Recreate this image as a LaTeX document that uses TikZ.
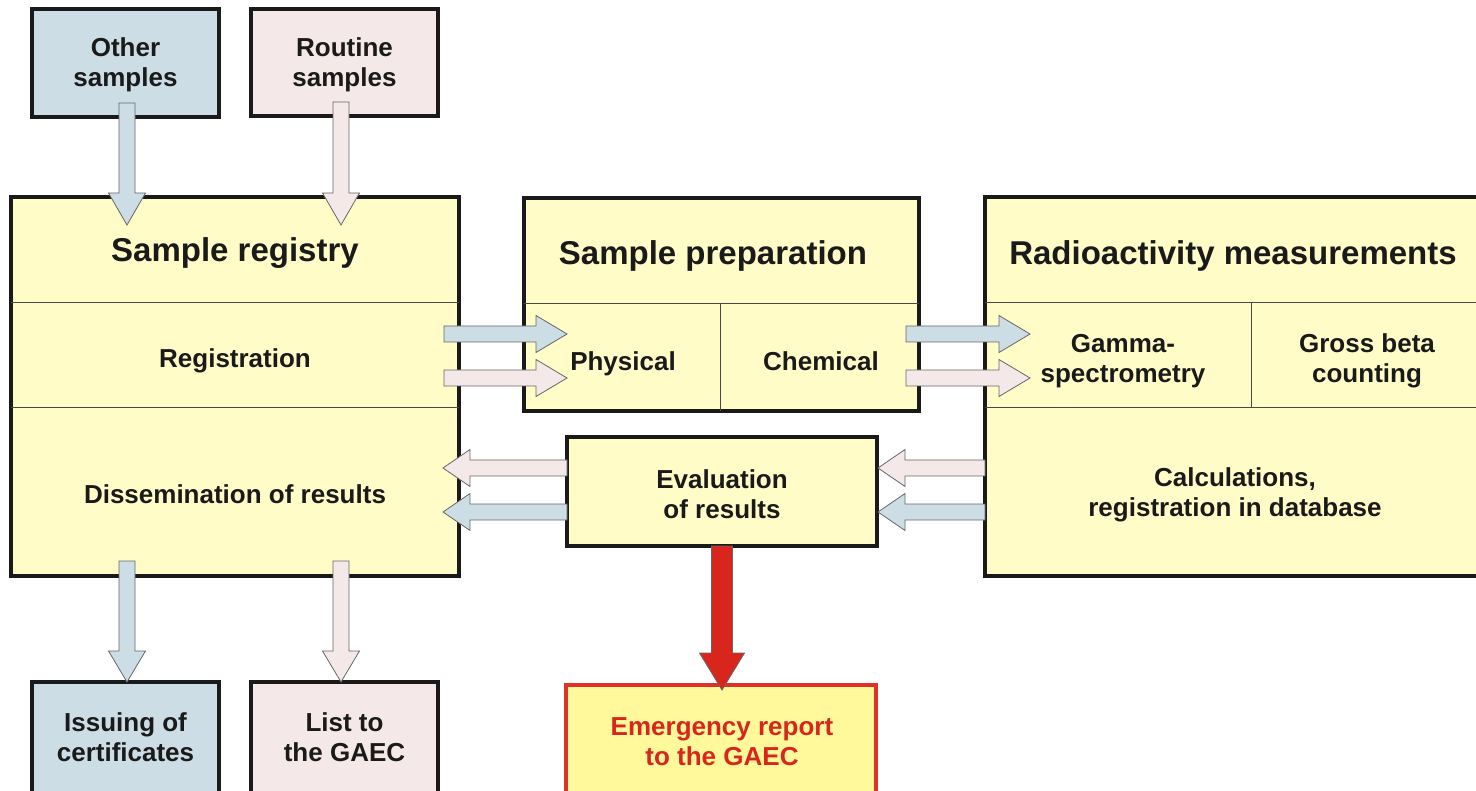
\documentclass[tikz,border=0pt]{standalone}
\usepackage{fontspec}
\setmainfont{Liberation Sans}
\usetikzlibrary{calc}
\definecolor{boxyellow}{HTML}{FFFCC8}
\definecolor{boxblue}{HTML}{CCDDE6}
\definecolor{boxpink}{HTML}{F5E8E8}
\definecolor{emgyellow}{HTML}{FFF99B}
\definecolor{emgred}{HTML}{E0302A}
\definecolor{arrred}{HTML}{D9261C}
\definecolor{ink}{HTML}{1A1A1A}
\tikzset{
  box/.style={draw=ink, line width=3.5pt, inner sep=0pt, outer sep=0pt},
  divline/.style={draw=ink!80, line width=1pt},
  bodytxt/.style={font=\bfseries\fontsize{26}{30}\selectfont, text=ink, align=center, inner sep=0pt},
  titletxt/.style={font=\bfseries\fontsize{33}{38}\selectfont, text=ink, align=center, inner sep=0pt},
  arrowline/.style={draw=black!60, line width=0.8pt, line join=miter},
}
\newcommand{\fatarr}[6]{%
  \coordinate (fa-s) at (#2);
  \coordinate (fa-t) at (#3);
  \coordinate (fa-h) at ($(fa-t)!#6pt!(fa-s)$);
  \draw[arrowline, fill=#1]
    ($(fa-s)!#4pt!90:(fa-t)$) -- ($(fa-h)!#4pt!90:(fa-t)$) --
    ($(fa-h)!#5pt!90:(fa-t)$) -- (fa-t) --
    ($(fa-h)!#5pt!-90:(fa-t)$) -- ($(fa-h)!#4pt!-90:(fa-t)$) --
    ($(fa-s)!#4pt!-90:(fa-t)$) -- cycle;
}
\begin{document}
\begin{tikzpicture}[x=1pt,y=-1pt]
\useasboundingbox (0,0) rectangle (1476,791);
\clip (0,0) rectangle (1476,791);

% top boxes
\node[box, fill=boxblue, minimum width=187pt, minimum height=108pt] (oth) at (125.5,63) {};
\node[bodytxt] (othT) at (125.5,65) {Other\\samples};
\node[box, fill=boxpink, minimum width=187pt, minimum height=107pt] (rou) at (344.5,62.5) {};
\node[bodytxt] (rouT) at (344.5,65) {Routine\\samples};

% sample registry
\node[box, fill=boxyellow, minimum width=448pt, minimum height=379pt] (reg) at (235,386.5) {};
\draw[divline] (reg.west |- 0,303) -- (reg.east |- 0,303);
\draw[divline] (reg.west |- 0,408) -- (reg.east |- 0,408);
\node[titletxt] (regT) at (235,253) {Sample registry};
\node[bodytxt] (regR) at (235,361) {Registration};
\node[bodytxt] (regD) at (235,494) {Dissemination of results};

% sample preparation
\node[box, fill=boxyellow, minimum width=395pt, minimum height=213pt] (prep) at (721.5,304.5) {};
\draw[divline] (prep.west |- 0,304) -- (prep.east |- 0,304);
\draw[divline] (720,304) -- (720,411);
\node[titletxt] (prepT) at (713,256) {Sample preparation};
\node[bodytxt] (phys) at (623,364) {Physical};
\node[bodytxt] (chem) at (821,361) {Chemical};

% radioactivity measurements
\node[box, fill=boxyellow, minimum width=496pt, minimum height=379pt] (rad) at (1233,386.5) {};
\draw[divline] (rad.west |- 0,303) -- (rad.east |- 0,303);
\draw[divline] (rad.west |- 0,408) -- (rad.east |- 0,408);
\draw[divline] (1251,303) -- (1251,408);
\node[titletxt] (radT) at (1233,256) {Radioactivity measurements};
\node[bodytxt] (gam) at (1123,361) {Gamma-\\spectrometry};
\node[bodytxt] (gro) at (1367,361) {Gross beta\\counting};
\node[bodytxt] (calc) at (1235,495) {Calculations,\\registration in database};

% evaluation
\node[box, fill=boxyellow, minimum width=310pt, minimum height=109pt] (eval) at (722,491.5) {};
\node[bodytxt] (evalT) at (722,494) {Evaluation\\of results};

% bottom boxes
\node[box, fill=boxblue, minimum width=187pt, minimum height=120pt] (iss) at (125.5,742) {};
\node[bodytxt] (issT) at (125.5,737) {Issuing of\\certificates};
\node[box, fill=boxpink, minimum width=187pt, minimum height=120pt] (lst) at (344.5,742) {};
\node[bodytxt] (lstT) at (344.5,737) {List to\\the GAEC};
\node[draw=emgred, line width=4pt, fill=emgyellow, outer sep=0pt, minimum width=310pt, minimum height=120pt] (emg) at (721,745) {};
\node[bodytxt, text=arrred] (emgT) at (722,742) {Emergency report\\to the GAEC};

% arrows: inputs
\fatarr{boxblue}{$(oth.south)+(1.5,-14)$}{$(oth.south |- reg.north)+(1.5,28)$}{8}{18.5}{32}
\fatarr{boxpink}{$(rou.south)+(-3.5,-14)$}{$(rou.south |- reg.north)+(-3.5,28)$}{8}{18.5}{32}

% registry -> preparation
\fatarr{boxblue}{$(reg.north east)+(-15,137)$}{$(prep.north west)+(43,136)$}{8}{18.5}{31}
\fatarr{boxpink}{$(reg.north east)+(-15,181)$}{$(prep.north west)+(43,180)$}{8}{18.5}{31}

% preparation -> radioactivity
\fatarr{boxblue}{$(prep.north east)+(-13,136)$}{$(rad.north west)+(45,137)$}{8}{18.5}{31}
\fatarr{boxpink}{$(prep.north east)+(-13,180)$}{$(rad.north west)+(45,181)$}{8}{18.5}{31}

% radioactivity -> evaluation
\fatarr{boxpink}{$(rad.north west)+(0,271)$}{$(eval.north east)+(1,31)$}{8}{18.5}{27}
\fatarr{boxblue}{$(rad.north west)+(0,315)$}{$(eval.north east)+(1,75)$}{8}{18.5}{27}

% evaluation -> registry
\fatarr{boxpink}{$(eval.north west)+(0,31)$}{$(reg.north east)+(-16,271)$}{8}{18.5}{27}
\fatarr{boxblue}{$(eval.north west)+(0,75)$}{$(reg.north east)+(-16,315)$}{8}{18.5}{27}

% outputs
\fatarr{boxblue}{$(reg.south west)+(116,-15)$}{$(iss.north)+(1.5,0)$}{8}{18.5}{31}
\fatarr{boxpink}{$(reg.south west)+(330,-15)$}{$(lst.north)+(-3.5,0)$}{8}{18.5}{31}

% emergency
\fatarr{arrred}{eval.south}{$(emg.north)+(1,5)$}{10.5}{22.5}{37}
\end{tikzpicture}
\end{document}
